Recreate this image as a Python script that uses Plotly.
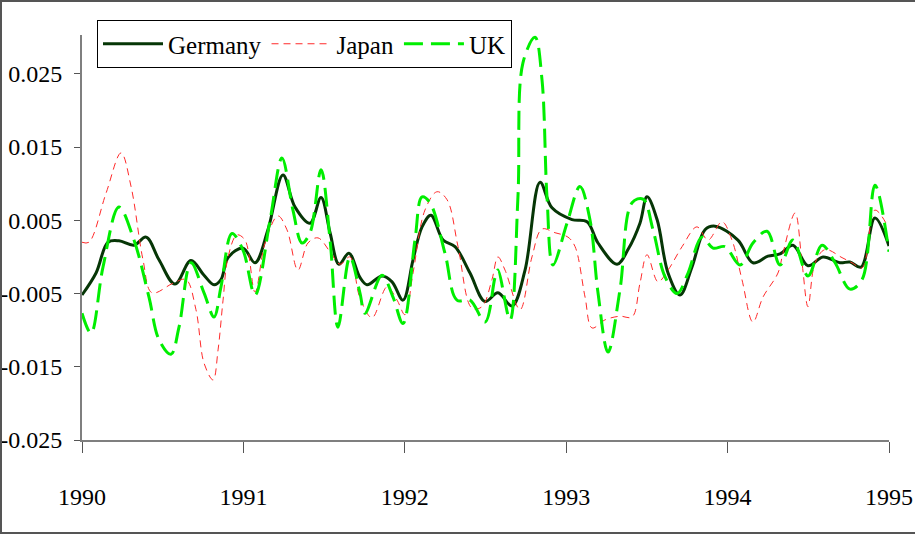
import plotly.graph_objects as go

# ---- data (decimal year, value) ----
germany_x = [1990.000, 1990.087, 1990.161, 1990.229, 1990.322, 1990.397, 1990.477, 1990.576, 1990.675,
             1990.756, 1990.818, 1990.861, 1990.905, 1990.998, 1991.072, 1991.152, 1991.245, 1991.320,
             1991.413, 1991.481, 1991.537, 1991.592, 1991.654, 1991.722, 1991.766, 1991.859, 1991.921,
             1991.989, 1992.051, 1992.107, 1992.162, 1992.237, 1992.311, 1992.404, 1992.497, 1992.577,
             1992.664, 1992.745, 1992.838, 1992.912, 1993.036, 1993.129, 1993.197, 1993.315, 1993.383,
             1993.457, 1993.501, 1993.563, 1993.631, 1993.705, 1993.779, 1993.860, 1993.922, 1994.064,
             1994.157, 1994.250, 1994.325, 1994.405, 1994.498, 1994.591, 1994.696, 1994.758, 1994.827,
             1994.913, 1995.000]
germany_y = [-0.0052, -0.0022, 0.0020, 0.0022, 0.0016, 0.0027, -0.0004, -0.0037, -0.0005,
             -0.0025, -0.0038, -0.0031, -0.0001, 0.0012, -0.0008, 0.0037, 0.0112, 0.0068,
             0.0046, 0.0081, 0.0033, -0.0010, 0.0005, -0.0028, -0.0038, -0.0026, -0.0034,
             -0.0059, -0.0004, 0.0041, 0.0057, 0.0023, 0.0014, -0.0022, -0.0061, -0.0049,
             -0.0067, -0.0018, 0.0102, 0.0067, 0.0051, 0.0048, 0.0019, -0.0010, 0.0010,
             0.0046, 0.0082, 0.0051, -0.0022, -0.0052, -0.0014, 0.0037, 0.0042, 0.0023,
             -0.0008, 0.0001, 0.0004, 0.0016, -0.0012, 0.0000, -0.0008, -0.0007, -0.0014,
             0.0053, 0.0015]

japan_x = [1990.000, 1990.043, 1990.149, 1990.242, 1990.304, 1990.378, 1990.434, 1990.564, 1990.644,
           1990.706, 1990.756, 1990.812, 1990.843, 1990.874, 1990.905, 1990.960, 1991.010, 1991.072,
           1991.134, 1991.214, 1991.270, 1991.338, 1991.400, 1991.462, 1991.537, 1991.599, 1991.660,
           1991.722, 1991.797, 1991.890, 1991.952, 1992.001, 1992.051, 1992.125, 1992.200, 1992.262,
           1992.330, 1992.416, 1992.478, 1992.540, 1992.577, 1992.621, 1992.714, 1992.788, 1992.850,
           1992.931, 1993.011, 1993.055, 1993.117, 1993.160, 1993.240, 1993.333, 1993.408, 1993.457,
           1993.501, 1993.569, 1993.631, 1993.718, 1993.810, 1993.879, 1993.965, 1994.027, 1994.089,
           1994.157, 1994.219, 1994.312, 1994.343, 1994.418, 1994.461, 1994.498, 1994.542, 1994.604,
           1994.709, 1994.771, 1994.833, 1994.913, 1994.994]
japan_y = [0.0020, 0.0020, 0.0087, 0.0142, 0.0096, -0.0004, -0.0049, -0.0036, -0.0031,
           -0.0072, -0.0145, -0.0168, -0.0127, -0.0059, 0.0000, 0.0030, 0.0023, -0.0048,
           0.0019, 0.0056, 0.0037, -0.0018, 0.0019, 0.0026, 0.0007, -0.0010, 0.0000,
           -0.0056, -0.0083, -0.0041, -0.0059, -0.0079, -0.0022, 0.0064, 0.0089, 0.0078,
           0.0014, -0.0070, -0.0068, -0.0031, 0.0000, -0.0018, -0.0072, 0.0000, 0.0038,
           0.0033, 0.0027, 0.0014, -0.0055, -0.0097, -0.0086, -0.0081, -0.0082, -0.0036,
           0.0003, -0.0034, -0.0018, 0.0014, 0.0041, 0.0023, 0.0048, 0.0023, -0.0031,
           -0.0089, -0.0055, -0.0022, 0.0005, 0.0060, -0.0008, -0.0068, -0.0008, 0.0010,
           -0.0001, -0.0008, -0.0015, 0.0064, 0.0041]

uk_x = [1990.000, 1990.056, 1990.130, 1990.229, 1990.322, 1990.415, 1990.477, 1990.551, 1990.601,
        1990.675, 1990.756, 1990.818, 1990.861, 1990.929, 1990.998, 1991.072, 1991.165, 1991.239,
        1991.307, 1991.363, 1991.413, 1991.481, 1991.537, 1991.586, 1991.660, 1991.722, 1991.753,
        1991.859, 1991.927, 1991.989, 1992.063, 1992.107, 1992.156, 1992.249, 1992.323, 1992.404,
        1992.497, 1992.559, 1992.577, 1992.652, 1992.701, 1992.732, 1992.807, 1992.850, 1992.881,
        1992.918, 1993.005, 1993.085, 1993.147, 1993.197, 1993.259, 1993.333, 1993.408, 1993.476,
        1993.538, 1993.612, 1993.687, 1993.755, 1993.841, 1993.910, 1993.984, 1994.077, 1994.157,
        1994.244, 1994.325, 1994.405, 1994.498, 1994.585, 1994.666, 1994.758, 1994.833, 1994.913,
        1995.000]
uk_y = [-0.0077, -0.0104, -0.0014, 0.0068, 0.0023, -0.0055, -0.0113, -0.0133, -0.0096,
        -0.0008, -0.0049, -0.0082, -0.0041, 0.0032, 0.0009, -0.0052, 0.0050, 0.0135,
        0.0064, 0.0019, 0.0033, 0.0119, 0.0023, -0.0096, 0.0000, -0.0049, -0.0077,
        -0.0025, -0.0055, -0.0091, 0.0023, 0.0082, 0.0074, 0.0005, -0.0059, -0.0059,
        -0.0089, -0.0028, -0.0018, -0.0086, 0.0082, 0.0265, 0.0300, 0.0242, 0.0082,
        -0.0011, 0.0046, 0.0096, 0.0051, -0.0049, -0.0130, -0.0045, 0.0074, 0.0079,
        0.0037, -0.0027, -0.0050, -0.0022, 0.0027, 0.0012, 0.0014, -0.0011, 0.0019,
        0.0035, -0.0011, 0.0023, -0.0026, 0.0016, -0.0008, -0.0044, -0.0031, 0.0098,
        0.0007]

year_ticks = [1990, 1991, 1992, 1993, 1994, 1995]
value_ticks = [-0.025, -0.015, -0.005, 0.005, 0.015, 0.025]
value_labels = ["-0.025", "-0.015", "-0.005", "0.005", "0.015", "0.025"]

FONT = "Liberation Serif"

fig = go.Figure()
fig.add_trace(go.Scatter(x=germany_x, y=germany_y, name="Germany", mode="lines",
                         line=dict(color="#063606", width=3, shape="spline", smoothing=1.0)))
fig.add_trace(go.Scatter(x=japan_x, y=japan_y, name="Japan", mode="lines",
                         line=dict(color="#ff2a2a", width=1, dash="7px,5px", shape="spline", smoothing=1.0)))
fig.add_trace(go.Scatter(x=uk_x, y=uk_y, name="UK", mode="lines",
                         line=dict(color="#00ee00", width=3, dash="19px,8px", shape="spline", smoothing=1.0)))

# figure frame (top, left, bottom)
L, T, W, H = 82, 35, 807, 405
def px(x): return (x - L) / W
def py(y): return (T + H - y) / H
frame = dict(type="line", xref="paper", yref="paper", line=dict(color="#555555", width=2))
fig.add_shape(**frame, x0=px(0), x1=px(915), y0=py(1), y1=py(1))
fig.add_shape(**frame, x0=px(1), x1=px(1), y0=py(0), y1=py(533))
fig.add_shape(**frame, x0=px(0), x1=px(915), y0=py(533), y1=py(533))

fig.update_layout(
    width=915, height=535,
    margin=dict(l=L, r=915 - L - W, t=T, b=535 - T - H, autoexpand=False),
    paper_bgcolor="white", plot_bgcolor="white",
    font=dict(family=FONT, size=24, color="black"),
    showlegend=True,
    legend=dict(orientation="h", x=px(97), y=py(20), xanchor="left", yanchor="top",
                bgcolor="white", bordercolor="black", borderwidth=1,
                font=dict(family=FONT, size=25, color="black"),
                itemwidth=60, tracegroupgap=0),
    xaxis=dict(range=[1990, 1995], tickvals=year_ticks, ticktext=[str(v) for v in year_ticks],
               showgrid=False, zeroline=False, showline=True, linecolor="#7f7f7f", linewidth=2,
               ticks="outside", ticklen=11, tickcolor="#555555", tickwidth=1, automargin=False,
               ticklabelstandoff=23, tickfont=dict(family=FONT, size=24)),
    yaxis=dict(range=[-0.025, 0.0303], tickvals=value_ticks, ticktext=value_labels,
               showgrid=False, zeroline=False, showline=True, linecolor="#7f7f7f", linewidth=2,
               ticks="outside", ticklen=6, tickcolor="#555555", tickwidth=1, automargin=False,
               ticklabelstandoff=7, tickfont=dict(family=FONT, size=24)),
)

fig.write_html("out.html", config={"displayModeBar": False},
               post_script="document.body.style.margin='0px';")
